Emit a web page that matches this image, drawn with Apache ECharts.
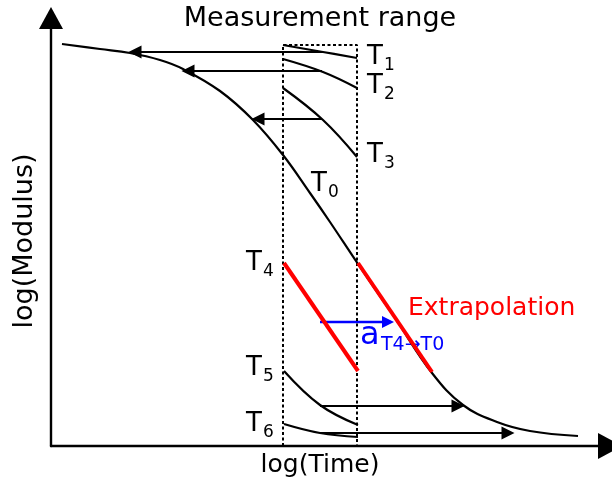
<!DOCTYPE html>
<html>
<head>
    <meta charset="UTF-8">
    <title>Time-temperature superposition</title>
    <script src="https://cdn.jsdelivr.net/npm/echarts@6/dist/echarts.min.js"></script>
    <style type="text/css">
        html, body { margin: 0; padding: 0; background: #fff; }
        #main { width: 612px; height: 488px; }
    </style>
</head>
<body>
<div id="main"></div>
<script>
    // x = log(time), y = log(modulus), in arbitrary units
    var masterCurve = [[11, 402], [49, 397], [79, 393], [109, 386], [132, 377], [169, 355], [202, 326],
        [232, 291], [259, 253], [279, 224], [307, 182], [344, 128], [381, 73], [412, 41],
        [446, 24], [479, 15], [527, 10]];
    var curveT1 = [[232, 401], [272, 394], [306, 388]];
    var curveT2 = [[232, 387], [272, 374], [306, 358]];
    var curveT3 = [[232, 358], [272, 326], [306, 289]];
    var curveT4 = [[233, 183], [307, 75]];
    var extrapolation = [[307, 183], [381, 74]];
    var curveT5 = [[233, 75], [269, 41], [307, 21]];
    var curveT6 = [[233, 22], [269, 13], [307, 9]];
    var measureBox = [[232, 0], [232, 401], [306, 401], [306, 0]];
    // shift arrows: [from, to]
    var shiftArrows = [
        [[272, 394], [84, 394]],
        [[271, 375], [137, 375]],
        [[271, 327], [207, 327]],
        [[269, 40], [407, 40]],
        [[269, 13], [457, 13]]
    ];
    var shiftT4 = [[269, 124], [337, 124]];

    var font = 'DejaVu Sans';
    var myChart = echarts.init(document.getElementById('main'));

    function curve(data, color, width) {
        return {
            type: 'line', data: data, smooth: 0.4, showSymbol: false, silent: true,
            lineStyle: { color: color, width: width }
        };
    }
    function txt(x, y, s, size, color, align) {
        return {
            type: 'text', x: x, y: y, silent: true,
            style: { text: s, font: size + 'px "' + font + '"', fill: color || '#000',
                align: align || 'left', verticalAlign: 'middle' }
        };
    }

    var option = {
        animation: false,
        grid: { left: 51, right: 2, top: 18, bottom: 42 },
        xAxis: {
            type: 'value', min: 0, max: 559,
            axisLine: { symbol: ['none', 'triangle'], symbolSize: [26, 24], lineStyle: { color: '#000', width: 2.4 } },
            axisTick: { show: false }, axisLabel: { show: false }, splitLine: { show: false }
        },
        yAxis: {
            type: 'value', min: 0, max: 428,
            axisLine: { show: true, symbol: ['none', 'triangle'], symbolSize: [24, 22], lineStyle: { color: '#000', width: 2.4 } },
            axisTick: { show: false }, axisLabel: { show: false }, splitLine: { show: false }
        },
        series: [
            {
                type: 'line', data: measureBox, showSymbol: false, silent: true,
                lineStyle: { color: '#000', width: 2, type: [3, 2.5] }
            },
            curve(masterCurve, '#000', 2.2),
            curve(curveT1, '#000', 2.2),
            curve(curveT2, '#000', 2.2),
            curve(curveT3, '#000', 2.2),
            curve(curveT5, '#000', 2.2),
            curve(curveT6, '#000', 2.2),
            curve(curveT4, '#ff0000', 4),
            curve(extrapolation, '#ff0000', 4),
            {
                type: 'lines', coordinateSystem: 'cartesian2d', silent: true,
                symbol: ['none', 'triangle'], symbolSize: [13, 13],
                lineStyle: { color: '#000', width: 2.2, opacity: 1 },
                data: shiftArrows.map(function (a) { return { coords: a }; })
            },
            {
                type: 'lines', coordinateSystem: 'cartesian2d', silent: true,
                symbol: ['none', 'triangle'], symbolSize: [12, 12],
                lineStyle: { color: '#0000ff', width: 2.4, opacity: 1 },
                data: [{ coords: shiftT4 }]
            }
        ],
        graphic: [
            txt(320, 19, 'Measurement range', 27, '#000', 'center'),
            txt(320, 465, 'log(Time)', 25, '#000', 'center'),
            {
                type: 'text', x: 25, y: 241, rotation: Math.PI / 2, silent: true,
                style: { text: 'log(Modulus)', font: '27px "' + font + '"', fill: '#000',
                    align: 'center', verticalAlign: 'middle' }
            },
            txt(367, 57, 'T', 26), txt(384, 66, '1', 17),
            txt(367, 86, 'T', 26), txt(384, 95, '2', 17),
            txt(367, 155, 'T', 26), txt(384, 164, '3', 17),
            txt(311, 184, 'T', 26), txt(328, 193, '0', 17),
            txt(246, 263, 'T', 26), txt(263, 272, '4', 17),
            txt(246, 368, 'T', 26), txt(263, 377, '5', 17),
            txt(246, 424, 'T', 26), txt(263, 433, '6', 17),
            txt(408, 308, 'Extrapolation', 25, '#ff0000'),
            txt(360, 336, 'a', 32, '#0000ff'),
            txt(381, 345, 'T4\u2192T0', 19, '#0000ff')
        ]
    };
    myChart.setOption(option);
</script>
</body>
</html>
